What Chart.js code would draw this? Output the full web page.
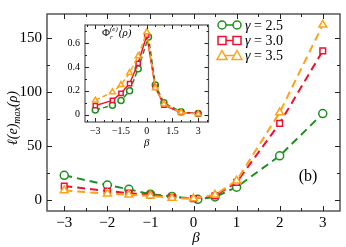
<!DOCTYPE html>
<html>
<head>
<meta charset="utf-8">
<script src="https://cdn.jsdelivr.net/npm/chart.js@4.4.1/dist/chart.umd.min.js"></script>
<style>
body { margin: 0; background: #fff; }
#wrap { position: relative; width: 346px; height: 247px; }
#main { position: absolute; left: 0; top: 0; }
#inset { position: absolute; left: 58px; top: 14px; }
</style>
</head>
<body>
<div id="wrap">
  <canvas id="main" width="346" height="247"></canvas>
  <canvas id="inset" width="156" height="136"></canvas>
</div>
<script>
// data
const beta = [-3, -2, -1.5, -1, -0.5, 0, 0.5, 1, 2, 3];
const betaGreen = [-3, -2, -1.5, -1, -0.5, 0.1, 0.5, 1, 2, 3];
const labels = ["\u03b3 = 2.5", "\u03b3 = 3.0", "\u03b3 = 3.5"];

const mainG25 = [23, 14, 10, 5.5, 3.5, 0.8, 3, 12, 41, 80];
const mainG30 = [13, 8.5, 6.5, 5, 2.5, 1.5, 4, 16.5, 71, 138];
const mainG35 = [9, 6, 5, 4, 2, 1.5, 5, 18, 81, 162];

const insetG25 = [0.04, 0.08, 0.12, 0.2, 0.385, 0.65, 0.25, 0.1, 0.025, 0.01];
const insetG30 = [0.077, 0.12, 0.18, 0.26, 0.43, 0.665, 0.23, 0.08, 0.02, 0.01];
const insetG35 = [0.12, 0.19, 0.25, 0.35, 0.49, 0.69, 0.225, 0.09, 0.02, 0.005];

const mainXTicks = [-3, -2, -1, 0, 1, 2, 3];
const mainYTicks = [0, 50, 100, 150];
const insetXTicks = [-3, -1.5, 0, 1.5, 3];
const insetYTicks = [0, 0.2, 0.4, 0.6];

const colors = ["#1f8f1f", "#f0102e", "#ffa21a"];
const styles = ["circle", "rect", "triangle"];
const serif = "'Liberation Serif', 'DejaVu Serif', serif";

function pts(xs, ys) {
    return xs.map((x, i) => ({ x: x, y: ys[i] }));
}

function minus(v) {
    return String(v).replace("-", "\u2212");
}

function makeSet(i, xs, ys, dash, r, w) {
    return {
        label: labels[i],
        data: pts(xs, ys),
        borderColor: colors[i],
        borderWidth: w,
        borderDash: dash,
        pointStyle: styles[i],
        pointRadius: r,
        pointBorderWidth: 1.5,
        pointBorderColor: colors[i],
        pointBackgroundColor: "#fff",
        fill: false,
        tension: 0,
        order: 2 - i
    };
}

// frame with inward ticks on all four sides
function frame(opts) {
    return {
        id: "frame",
        afterDraw(chart) {
            const ctx = chart.ctx;
            const a = chart.chartArea;
            const xs = chart.scales.x, ys = chart.scales.y;
            ctx.save();
            ctx.strokeStyle = "#555";
            ctx.lineWidth = opts.lw;
            ctx.strokeRect(a.left, a.top, a.right - a.left, a.bottom - a.top);
            ctx.strokeStyle = "#222";
            ctx.lineWidth = 1;
            ctx.beginPath();
            const tx = (v, len) => {
                const p = Math.round(xs.getPixelForValue(v)) + 0.5;
                ctx.moveTo(p, a.bottom); ctx.lineTo(p, a.bottom - len);
                ctx.moveTo(p, a.top); ctx.lineTo(p, a.top + len);
            };
            const ty = (v, len) => {
                const p = Math.round(ys.getPixelForValue(v)) + 0.5;
                ctx.moveTo(a.left, p); ctx.lineTo(a.left + len, p);
                ctx.moveTo(a.right, p); ctx.lineTo(a.right - len, p);
            };
            opts.xMajor.forEach(v => tx(v, opts.major));
            opts.xMinor.forEach(v => tx(v, opts.minor));
            opts.yMajor.forEach(v => ty(v, opts.major));
            opts.yMinor.forEach(v => ty(v, opts.minor));
            ctx.stroke();
            ctx.restore();
            if (opts.extra) opts.extra(chart);
        }
    };
}

function drawMainText(chart) {
    const ctx = chart.ctx;
    ctx.save();
    ctx.fillStyle = "#000";
    ctx.textBaseline = "middle";

    // x title
    ctx.font = "italic 15px " + serif;
    ctx.textAlign = "center";
    ctx.fillText("\u03b2", 196, 238);

    // (b)
    ctx.font = "16px " + serif;
    ctx.fillText("(b)", 308, 177);

    // y title, rotated
    ctx.save();
    ctx.translate(12, 118);
    ctx.rotate(-Math.PI / 2);
    ctx.textAlign = "left";
    ctx.textBaseline = "alphabetic";
    const big = "italic 14px " + serif, small = "italic 10px " + serif;
    ctx.font = big; const w1 = ctx.measureText("\u2113(e)").width;
    ctx.font = small; const w2 = ctx.measureText("max").width;
    ctx.font = big; const w3 = ctx.measureText("(\u03c1)").width;
    let x0 = -(w1 + w2 + w3) / 2;
    ctx.font = big; ctx.fillText("\u2113(e)", x0, 5);
    ctx.font = small; ctx.fillText("max", x0 + w1, 8);
    ctx.font = big; ctx.fillText("(\u03c1)", x0 + w1 + w2, 5);
    ctx.restore();

    // legend
    ctx.textAlign = "left";
    const rows = [25, 40.5, 55.5];
    rows.forEach((y, i) => {
        ctx.strokeStyle = colors[i];
        ctx.lineWidth = 1.5;
        ctx.beginPath();
        ctx.moveTo(222, y); ctx.lineTo(237, y);
        ctx.stroke();
        [222, 237].forEach(cx => {
            ctx.fillStyle = "#fff";
            ctx.beginPath();
            if (i === 0) ctx.arc(cx, y, 4, 0, Math.PI * 2);
            else if (i === 1) ctx.rect(cx - 4, y - 4, 8, 8);
            else { ctx.moveTo(cx, y - 5); ctx.lineTo(cx + 5, y + 4); ctx.lineTo(cx - 5, y + 4); ctx.closePath(); }
            ctx.fill();
            ctx.stroke();
        });
        ctx.fillStyle = "#000";
        ctx.font = "italic 14px " + serif;
        ctx.fillText("\u03b3", 245, y + 1);
        const gw = ctx.measureText("\u03b3").width;
        ctx.font = "14px " + serif;
        ctx.fillText(labels[i].slice(1), 245 + gw, y + 1);
    });
    ctx.restore();
}

function drawInsetText(chart) {
    const ctx = chart.ctx;
    ctx.save();
    ctx.fillStyle = "#000";
    ctx.textBaseline = "alphabetic";
    ctx.textAlign = "left";
    ctx.font = "italic 11px " + serif;
    ctx.fillText("\u03b2", 86, 132);
    // Phi_r^(e)(rho)
    let x = 44, y = 22;
    ctx.font = "11px " + serif;
    ctx.fillText("\u03a6", x, y);
    x += ctx.measureText("\u03a6").width;
    ctx.font = "italic 7px " + serif;
    ctx.fillText("r", x, y + 3);
    ctx.fillText("(e)", x, y - 5);
    x += ctx.measureText("(e)").width + 1;
    ctx.font = "italic 11px " + serif;
    ctx.fillText("(\u03c1)", x, y);
    ctx.restore();
}

function setTicks(list) {
    return scale => { scale.ticks = list.map(v => ({ value: v })); };
}

new Chart(document.getElementById("main"), {
    type: "line",
    data: {
        datasets: [
            makeSet(0, betaGreen, mainG25, [8, 5], 4, 2),
            makeSet(1, beta, mainG30, [8, 5], 4, 2),
            makeSet(2, beta, mainG35, [8, 5], 4.5, 2)
        ]
    },
    options: {
        responsive: false,
        animation: false,
        layout: { padding: { top: 3, right: 3, left: 0, bottom: 0 } },
        plugins: { legend: { display: false }, tooltip: { enabled: false } },
        scales: {
            x: {
                type: "linear", min: -3.4, max: 3.4,
                grid: { display: false, drawTicks: false },
                border: { display: false },
                afterBuildTicks: setTicks(mainXTicks),
                afterFit: s => { s.height = 36; },
                ticks: { font: { family: serif, size: 15 }, color: "#000", padding: 3, maxRotation: 0, callback: minus }
            },
            y: {
                min: -10, max: 172,
                grid: { display: false, drawTicks: false },
                border: { display: false },
                afterBuildTicks: setTicks(mainYTicks),
                afterFit: s => { s.width = 47; },
                ticks: { font: { family: serif, size: 15 }, color: "#000", padding: 5 }
            }
        }
    },
    plugins: [frame({
        lw: 1.5, major: 5, minor: 3,
        xMajor: mainXTicks, xMinor: [-2.5, -1.5, -0.5, 0.5, 1.5, 2.5],
        yMajor: mainYTicks, yMinor: [25, 75, 125],
        extra: drawMainText
    })]
});

new Chart(document.getElementById("inset"), {
    type: "line",
    data: {
        datasets: [
            makeSet(0, betaGreen, insetG25, [5, 3], 3, 1.5),
            makeSet(1, beta, insetG30, [], 3, 1.5),
            makeSet(2, beta, insetG35, [5, 3], 3.3, 1.5)
        ]
    },
    options: {
        responsive: false,
        animation: false,
        layout: { padding: { top: 3, right: 4, left: 0, bottom: 0 } },
        plugins: { legend: { display: false }, tooltip: { enabled: false } },
        scales: {
            x: {
                type: "linear", min: -3.6, max: 3.6,
                grid: { display: false, drawTicks: false },
                border: { display: false },
                afterBuildTicks: setTicks(insetXTicks),
                afterFit: s => { s.height = 28; },
                ticks: { font: { family: serif, size: 10 }, color: "#000", padding: 3, maxRotation: 0, autoSkip: false, callback: minus }
            },
            y: {
                min: -0.06, max: 0.75,
                grid: { display: false, drawTicks: false },
                border: { display: false },
                afterBuildTicks: setTicks(insetYTicks),
                afterFit: s => { s.width = 27; },
                ticks: { font: { family: serif, size: 10 }, color: "#000", padding: 5 }
            }
        }
    },
    plugins: [frame({
        lw: 1.2, major: 4, minor: 2,
        xMajor: insetXTicks,
        xMinor: [-3.5, -2.5, -2, -1, -0.5, 0.5, 1, 2, 2.5, 3.5],
        yMajor: insetYTicks, yMinor: [0.1, 0.3, 0.5, 0.7],
        extra: drawInsetText
    })]
});
</script>
</body>
</html>
